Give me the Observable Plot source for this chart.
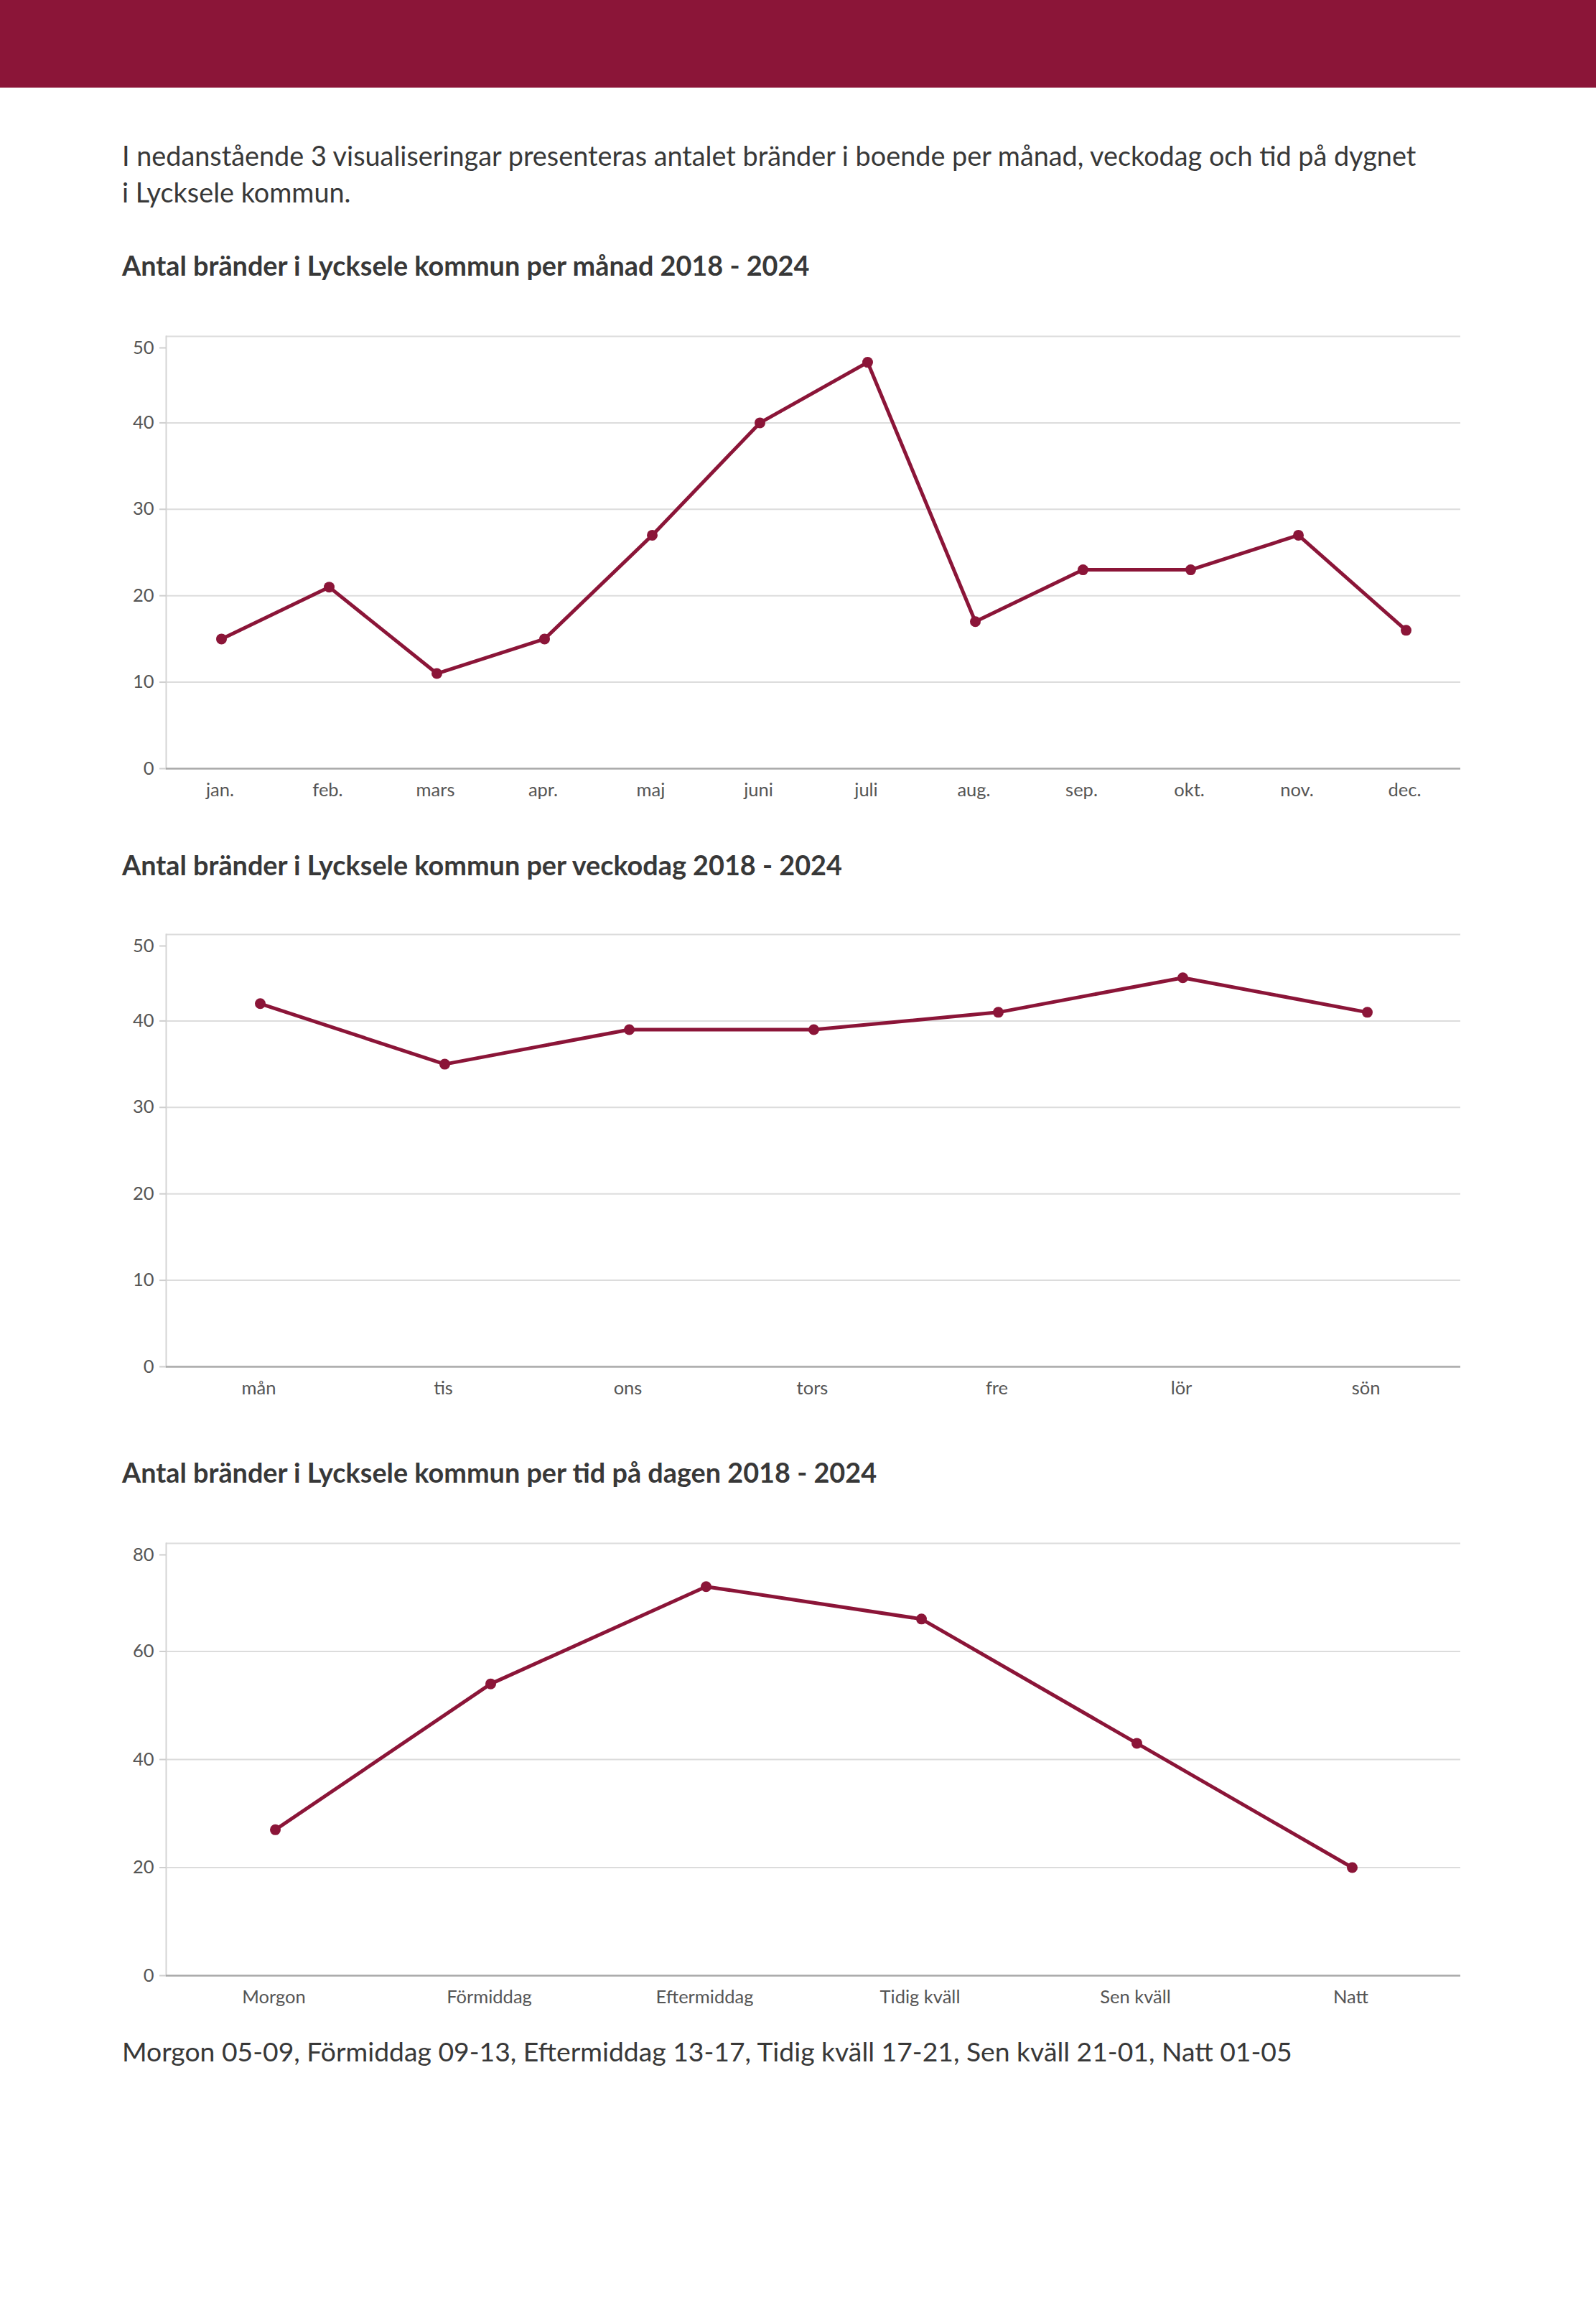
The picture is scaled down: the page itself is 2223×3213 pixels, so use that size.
<!DOCTYPE html>
<html>
<head>
<meta charset="utf-8">
<script src="https://cdn.jsdelivr.net/npm/d3@7"></script>
<script src="https://cdn.jsdelivr.net/npm/@observablehq/plot@0.6"></script>
<style>
  html, body { margin: 0; padding: 0; background: #fff; }
  body { width: 2223px; height: 3213px; position: relative; overflow: hidden; font-family: Lato, "Open Sans", sans-serif; color: #383838; }
  .banner { position: absolute; left: 0; top: 0; width: 2223px; height: 122px; background: #8b1538; }
  .txt { position: absolute; left: 170px; white-space: nowrap; }
  .intro { font-size: 37.8px; line-height: 50.5px; }
  .title { font-size: 37.8px; font-weight: 700; line-height: 1.2; }
  .caption { font-size: 37.3px; line-height: 1.2; }
  .chart { position: absolute; left: 0; }
</style>
</head>
<body>
<div class="banner"></div>
<div class="txt intro" style="top:192px">I nedanstående 3 visualiseringar presenteras antalet bränder i boende per månad, veckodag och tid på dygnet<br>i Lycksele kommun.</div>
<div class="txt title" style="top:347px">Antal bränder i Lycksele kommun per månad 2018 - 2024</div>
<div class="chart" id="c1" style="top:428px"></div>
<div class="txt title" style="top:1182px">Antal bränder i Lycksele kommun per veckodag 2018 - 2024</div>
<div class="chart" id="c2" style="top:1261px"></div>
<div class="txt title" style="top:2028px">Antal bränder i Lycksele kommun per tid på dagen 2018 - 2024</div>
<div class="chart" id="c3" style="top:2109px"></div>
<div class="txt caption" style="top:2835px">Morgon 05-09, Förmiddag 09-13, Eftermiddag 13-17, Tidig kväll 17-21, Sen kväll 21-01, Natt 01-05</div>

<script>
// ---- data ----
const months = ["jan.", "feb.", "mars", "apr.", "maj", "juni", "juli", "aug.", "sep.", "okt.", "nov.", "dec."];
const monthValues = [15, 21, 11, 15, 27, 40, 47, 17, 23, 23, 27, 16];
const monthTicks = [0, 10, 20, 30, 40, 50];

const weekdays = ["mån", "tis", "ons", "tors", "fre", "lör", "sön"];
const weekdayValues = [42, 35, 39, 39, 41, 45, 41];
const weekdayTicks = [0, 10, 20, 30, 40, 50];

const dayparts = ["Morgon", "Förmiddag", "Eftermiddag", "Tidig kväll", "Sen kväll", "Natt"];
const daypartValues = [27, 54, 72, 66, 43, 20];
const daypartTicks = [0, 20, 40, 60, 80];

const LINE = "#8b1538";

function chart(cats, vals, ticks) {
  const data = cats.map((c, i) => ({cat: c, value: vals[i]}));
  const max = ticks[ticks.length - 1];
  const axisOpts = {tickSize: 9, tickPadding: 8, stroke: "#cfcfcf", strokeWidth: 2, fill: "#555", label: null};
  return Plot.plot({
    width: 2223,
    height: 702,
    marginLeft: 231,
    marginRight: 189,
    marginTop: 40,
    marginBottom: 60,
    style: {fontFamily: "Lato, 'Open Sans', sans-serif", fontSize: "25.5px", color: "#555", background: "transparent", overflow: "visible"},
    x: {type: "point", domain: cats, padding: 0.5, label: null},
    y: {domain: [0, max], label: null},
    marks: [
      Plot.gridY(ticks.filter(t => t > 0), {stroke: "#dcdcdc", strokeOpacity: 1, strokeWidth: 2}),
      Plot.frame({anchor: "left", stroke: "#d4d4d4", strokeWidth: 2}),
      Plot.axisY(ticks.filter(t => t < max), axisOpts),
      Plot.axisY([max], {...axisOpts, dy: 16}),
      Plot.ruleY([0], {stroke: "#a8a8a8", strokeWidth: 2.5}),
      Plot.axisX({tickSize: 0, tickPadding: 20, fill: "#555", label: null, dx: -2}),
      Plot.line(data, {x: "cat", y: "value", stroke: LINE, strokeWidth: 5}),
      Plot.dot(data, {x: "cat", y: "value", r: 7.5, fill: LINE, stroke: "none"})
    ]
  });
}

document.getElementById("c1").append(chart(months, monthValues, monthTicks));
document.getElementById("c2").append(chart(weekdays, weekdayValues, weekdayTicks));
document.getElementById("c3").append(chart(dayparts, daypartValues, daypartTicks));
</script>
</body>
</html>
